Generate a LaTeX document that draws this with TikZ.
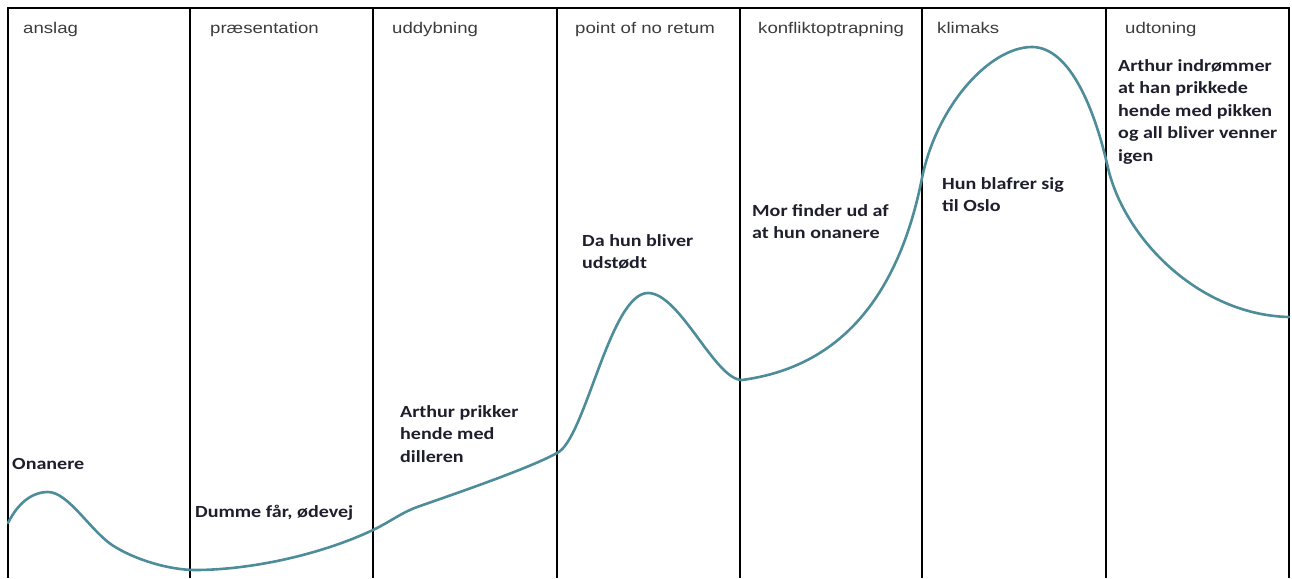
\documentclass[tikz,border=0pt]{standalone}
\usepackage{fontspec}
\usepackage{tikz}
\usetikzlibrary{positioning}
\newfontfamily\overskrift[FakeStretch=1.2]{Liberation Sans}
\newfontfamily\tekst[FakeStretch=1.18]{Carlito}
\definecolor{kurve}{RGB}{77,140,153}
\definecolor{graa}{RGB}{60,60,60}
\definecolor{mork}{RGB}{30,30,45}
\tikzset{fase/.style={anchor=base west,inner sep=0pt,text=graa,font=\overskrift\fontsize{15.5}{18}\selectfont},
hvad/.style={anchor=north west,inner sep=0pt,align=left,text=mork,font=\tekst\bfseries\fontsize{17}{22.5}\selectfont}}

\begin{document}
\begin{tikzpicture}[x=1pt,y=-1pt,skille/.style={line width=2.6pt,black}]
			\useasboundingbox (0,0) rectangle (1292,578);
			\draw[skille] (8,578) -- (8,8) -- (1289,8) -- (1289,578);
			\foreach \x in {190,373,557,740,922,1106}
				\draw[skille] (\x,8) -- (\x,578);

			\node[fase] (f1) at (23,34) {anslag};
			\node[fase] (f2) at (210,34) {præsentation};
			\node[fase] (f3) at (392,34) {uddybning};
			\node[fase] (f4) at (575,34) {point of no retum};
			\node[fase] (f5) at (758,34) {konfliktoptrapning};
			\node[fase] (f6) at (937,34) {klimaks};
			\node[fase] (f7) at (1125,34) {udtoning};

			% spændingskurven
			\draw[kurve,line width=2.6pt,line cap=round] (8,523) .. controls (18,503) and (32,492) .. (48,492)
				.. controls (68,492) and (90,530) .. (112,545)
				.. controls (135,560) and (170,570) .. (195,570)
				.. controls (250,570) and (320,555) .. (373,530)
				.. controls (390,522) and (402,512) .. (420,506)
				.. controls (460,492) and (530,468) .. (557,453)
				.. controls (585,440) and (610,293) .. (648,293)
				.. controls (680,293) and (715,380) .. (742,380)
				.. controls (800,372) and (890,340) .. (922,178)
				.. controls (937,105) and (990,47) .. (1032,47)
				.. controls (1070,47) and (1095,110) .. (1108,168)
				.. controls (1125,240) and (1200,315) .. (1289,317);

			\node[hvad] (h1) at (12,458) {Onanere};
			\node[hvad] (h2) at (195,505) {Dumme får, ødevej};
			\node[hvad] (h3) at (400,405) {Arthur prikker\\hende med\\dilleren};
			\node[hvad] (h4) at (582,234) {Da hun bliver\\udstødt};
			\node[hvad] (h5) at (752,204) {Mor finder ud af\\at hun onanere};
			\node[hvad] (h6) at (942,177) {Hun blafrer sig\\til Oslo};
			\node[hvad] (h7) at (1118,59) {Arthur indrømmer\\at han prikkede\\hende med pikken\\og all bliver venner\\igen};
		\end{tikzpicture}
\end{document}
